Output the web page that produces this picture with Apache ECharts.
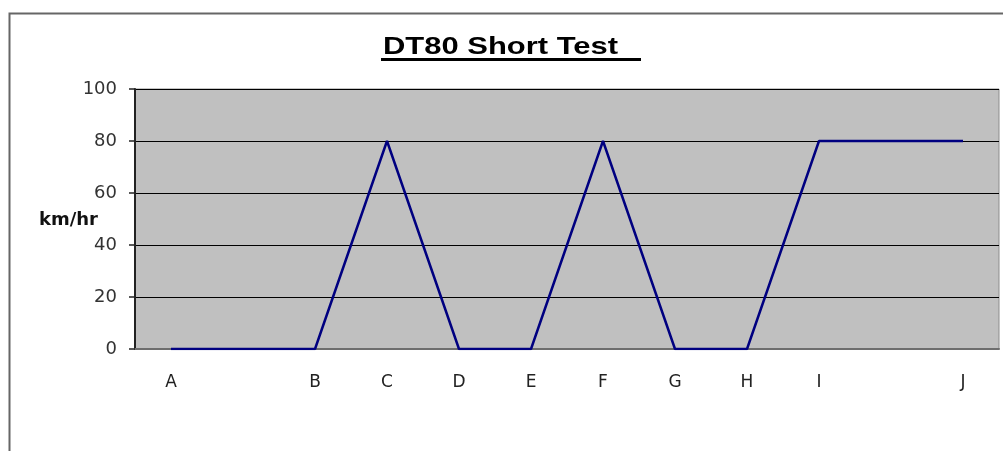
<!DOCTYPE html>
<html><head><meta charset="utf-8">
<script src="https://cdn.jsdelivr.net/npm/echarts@6/dist/echarts.min.js"></script>
<style>html,body{margin:0;padding:0;background:#fff}#c{width:1003px;height:451px}</style>
</head><body><div id="c"></div>
<script>
const categories = ['A', '', 'B', 'C', 'D', 'E', 'F', 'G', 'H', 'I', '', 'J'];
const speed = [0, 0, 0, 80, 0, 0, 80, 0, 0, 80, 80, 80];
const yTicks = [0, 20, 40, 60, 80, 100];
const titleText = 'DT80 Short Test';
const unitText = 'km/hr';

const chart = echarts.init(document.getElementById('c'), null, {renderer: 'canvas'});
chart.setOption({
  animation: false,
  backgroundColor: '#fff',
  graphic: [
    {type: 'rect', shape: {x: 9.5, y: 13.5, width: 1100, height: 500}, style: {fill: 'none', stroke: '#666', lineWidth: 2}, silent: true},
    {type: 'text', x: 383, y: 47, scaleX: 1.29, originX: 0, originY: 0,
      style: {text: titleText, font: 'bold 24px "Liberation Sans"', fill: '#000', textAlign: 'left', textVerticalAlign: 'middle'}, silent: true},
    {type: 'rect', shape: {x: 381, y: 58, width: 260, height: 3}, style: {fill: '#000'}, silent: true},
    {type: 'text', x: 98, y: 220,
      style: {text: unitText, font: 'bold 18px "DejaVu Sans"', fill: '#111', textAlign: 'right', textVerticalAlign: 'middle'}, silent: true}
  ],
  grid: {left: 135, top: 89, right: 4, bottom: 102, show: true, backgroundColor: '#c0c0c0', borderColor: '#8c8c8c', borderWidth: 1},
  xAxis: {
    type: 'category', data: categories, boundaryGap: true,
    axisLine: {lineStyle: {color: '#6e6e6e', width: 2}},
    axisTick: {show: false},
    axisLabel: {margin: 25, fontFamily: 'DejaVu Sans', fontSize: 17, color: '#222', interval: 0}
  },
  yAxis: {
    type: 'value', min: 0, max: 100, interval: 20,
    axisLine: {show: true, lineStyle: {color: '#222', width: 2}},
    axisTick: {show: true, inside: false, length: 6, lineStyle: {color: '#222', width: 1.5}},
    axisLabel: {margin: 18, fontFamily: 'DejaVu Sans', fontSize: 18, color: '#333',
      formatter: v => yTicks.includes(v) ? String(v) : ''},
    splitLine: {show: true, lineStyle: {color: '#000', width: 1.2}}
  },
  series: [{
    type: 'line', data: speed, symbol: 'none',
    lineStyle: {color: '#000080', width: 2.5}
  }]
});
</script></body></html>
